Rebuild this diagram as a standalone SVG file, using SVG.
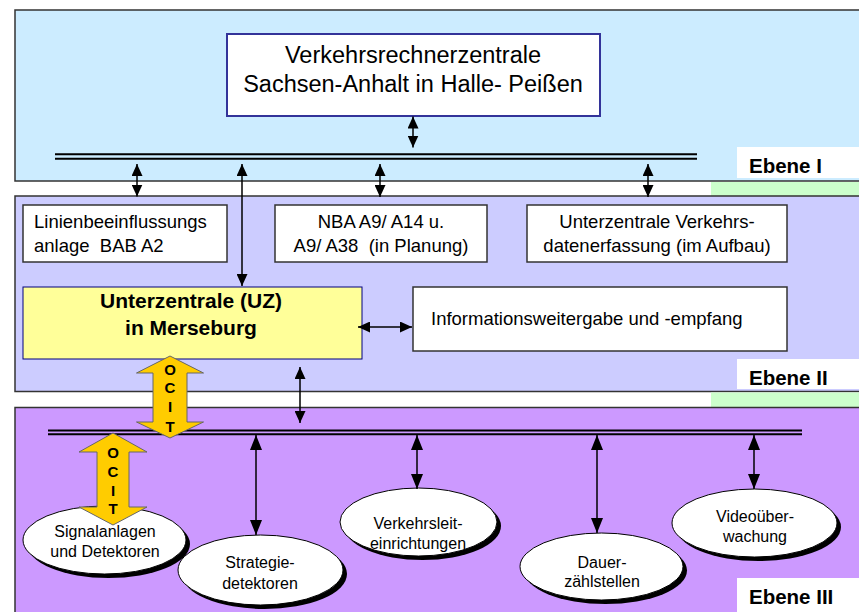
<svg xmlns="http://www.w3.org/2000/svg" width="859" height="612" viewBox="0 0 859 612">
<style>
  text { font-family: "Liberation Sans", Arial, sans-serif; fill: #000; }
  .panel { stroke: #333; stroke-width: 1.5; }
  .box { fill: #fff; stroke: #333; stroke-width: 1.5; }
  .t185 { font-size: 18.5px; }
  .tc { text-anchor: middle; }
  .ebene { font-size: 20.5px; font-weight: bold; }
  .bus { stroke: #000; stroke-width: 2; fill: none; }
  .conn { stroke: #000; stroke-width: 1.5; fill: none; }
  .c1 { marker-start: url(#ah); marker-end: url(#ah); }
  .c2 { marker-start: url(#ah2); marker-end: url(#ah2); }
  .ell { fill: #fff; stroke: #000; stroke-width: 1; }
  .shadow { fill: #000; }
  .et { font-size: 16px; text-anchor: middle; }
  .ocit { fill: #FFCC00; stroke: #666; stroke-width: 1; }
  .ocitt { font-size: 15px; font-weight: bold; text-anchor: middle; }
</style>
<defs>
  <marker id="ah" viewBox="0 0 12 11" refX="12" refY="5.5" markerWidth="12" markerHeight="11" markerUnits="userSpaceOnUse" orient="auto-start-reverse">
    <path d="M0,0L12,5.5L0,11z" fill="#000"/>
  </marker>
  <marker id="ah2" viewBox="0 0 15 12" refX="15" refY="6" markerWidth="15" markerHeight="12" markerUnits="userSpaceOnUse" orient="auto-start-reverse">
    <path d="M0,0L15,6L0,12z" fill="#000"/>
  </marker>
</defs>

<rect width="859" height="612" fill="#fff"/>

<!-- Ebene I -->
<g id="ebene1">
  <rect class="panel" x="15" y="10" width="860" height="171" fill="#CCECFF"/>
  <rect x="737" y="147" width="130" height="31" fill="#fff"/>
  <text class="ebene" x="749" y="173">Ebene I</text>
</g>
<rect x="711" y="182" width="150" height="14" fill="#CCFFCC"/>

<!-- Ebene II -->
<g id="ebene2">
  <rect class="panel" x="15" y="196" width="860" height="195.5" fill="#CCCCFF"/>
  <rect x="737" y="359" width="130" height="30" fill="#fff"/>
  <text class="ebene" x="749" y="385">Ebene II</text>
</g>
<rect x="711" y="392.5" width="150" height="14.5" fill="#CCFFCC"/>

<!-- Ebene III -->
<g id="ebene3">
  <rect class="panel" x="15" y="407.5" width="860" height="220" fill="#CC99FF"/>
  <rect x="737" y="578" width="130" height="40" fill="#fff"/>
  <text class="ebene" x="749" y="604">Ebene III</text>
</g>

<g id="vrz">
  <rect x="227" y="34" width="373" height="82" fill="#fff" stroke="#333399" stroke-width="2"/>
  <text class="tc" x="413" y="63" font-size="23.5">Verkehrsrechnerzentrale</text>
  <text class="tc" x="413" y="92" font-size="23.5">Sachsen-Anhalt in Halle- Peißen</text>
</g>

<g id="bus1">
  <line class="bus" x1="55" y1="154.3" x2="697" y2="154.3"/>
  <line class="bus" x1="55" y1="158.7" x2="697" y2="158.7"/>
</g>

<g id="lba">
  <rect class="box" x="23" y="205" width="204" height="57"/>
  <text class="t185" x="34" y="228">Linienbeeinflussungs</text>
  <text class="t185" x="34" y="252" xml:space="preserve">anlage  BAB A2</text>
</g>
<g id="nba">
  <rect class="box" x="275" y="205" width="212" height="57"/>
  <text class="t185 tc" x="381" y="228">NBA A9/ A14 u.</text>
  <text class="t185 tc" x="381" y="252" xml:space="preserve">A9/ A38  (in Planung)</text>
</g>
<g id="uvd">
  <rect class="box" x="527" y="205" width="260" height="57"/>
  <text class="t185 tc" x="657" y="228">Unterzentrale Verkehrs-</text>
  <text class="t185 tc" x="657" y="252">datenerfassung (im Aufbau)</text>
</g>
<g id="uz">
  <rect x="23" y="287" width="339" height="72" fill="#FFFF99" stroke="#000080" stroke-width="1"/>
  <text class="tc" x="191" y="308" font-size="21" font-weight="bold">Unterzentrale (UZ)</text>
  <text class="tc" x="191" y="335" font-size="21" font-weight="bold">in Merseburg</text>
</g>
<g id="info">
  <rect class="box" x="413" y="287" width="374" height="64"/>
  <text class="t185" x="431" y="325">Informationsweitergabe und -empfang</text>
</g>

<g id="bus3">
  <line class="bus" x1="48" y1="430.5" x2="802" y2="430.5"/>
  <line class="bus" x1="48" y1="434.3" x2="802" y2="434.3"/>
</g>

<g id="signal">
  <ellipse class="shadow" cx="108.5" cy="544" rx="81.5" ry="34"/>
  <ellipse class="ell" cx="104.5" cy="540" rx="81.5" ry="34"/>
  <text class="et" x="105" y="537">Signalanlagen</text>
  <text class="et" x="105" y="557">und Detektoren</text>
</g>
<g id="strategie">
  <ellipse class="shadow" cx="264.5" cy="574" rx="82.5" ry="35"/>
  <ellipse class="ell" cx="260.5" cy="570" rx="82.5" ry="35"/>
  <text class="et" x="260" y="568">Strategie-</text>
  <text class="et" x="260" y="589">detektoren</text>
</g>
<g id="vle">
  <ellipse class="shadow" cx="422.5" cy="526" rx="78.5" ry="34"/>
  <ellipse class="ell" cx="418.5" cy="522" rx="78.5" ry="34"/>
  <text class="et" x="418" y="529">Verkehrsleit-</text>
  <text class="et" x="418" y="549">einrichtungen</text>
</g>
<g id="dauer">
  <ellipse class="shadow" cx="605.5" cy="570.5" rx="81.5" ry="33.5"/>
  <ellipse class="ell" cx="601.5" cy="566.5" rx="81.5" ry="33.5"/>
  <text class="et" x="602" y="568">Dauer-</text>
  <text class="et" x="602" y="587">zählstellen</text>
</g>
<g id="video">
  <ellipse class="shadow" cx="758.5" cy="527" rx="82.5" ry="34"/>
  <ellipse class="ell" cx="754.5" cy="523" rx="82.5" ry="34"/>
  <text class="et" x="755" y="522">Videoüber-</text>
  <text class="et" x="755" y="542">wachung</text>
</g>

<g id="connectors">
  <line class="conn c1" x1="413" y1="116.5" x2="413" y2="147.5"/>
  <line class="conn c1" x1="137" y1="164" x2="137" y2="196.5"/>
  <line class="conn c1" x1="242" y1="164" x2="242" y2="286"/>
  <line class="conn c1" x1="380" y1="164" x2="380" y2="197"/>
  <line class="conn c1" x1="648" y1="164" x2="648" y2="197"/>
  <line class="conn c1" x1="358" y1="327" x2="412" y2="327"/>
  <line class="conn c1" x1="300" y1="367" x2="300" y2="423"/>
  <line class="conn c2" x1="256" y1="435" x2="256" y2="535"/>
  <line class="conn c2" x1="417" y1="435" x2="417" y2="489"/>
  <line class="conn c2" x1="597" y1="435" x2="597" y2="533"/>
  <line class="conn c2" x1="754" y1="435" x2="754" y2="489"/>

  <g id="ocit1">
    <path class="ocit" d="M170,356 L203.5,373 L187,373 L187,422 L203.5,422 L170,438 L136.5,422 L153,422 L153,373 L136.5,373 Z"/>
    <text class="ocitt" x="170" y="375">O</text>
    <text class="ocitt" x="170" y="393">C</text>
    <text class="ocitt" x="170" y="412">I</text>
    <text class="ocitt" x="170" y="432">T</text>
  </g>
  <g id="ocit2">
    <path class="ocit" d="M113,433 L147,452 L129,452 L129,507 L147,507 L113,525 L79,507 L97,507 L97,452 L79,452 Z"/>
    <text class="ocitt" x="113" y="458">O</text>
    <text class="ocitt" x="113" y="477">C</text>
    <text class="ocitt" x="113" y="496">I</text>
    <text class="ocitt" x="113" y="514">T</text>
  </g>
</g>
</svg>
